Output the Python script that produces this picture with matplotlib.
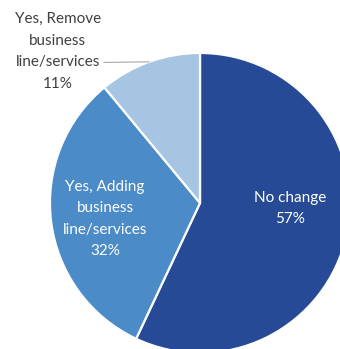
import numpy as np
import matplotlib
matplotlib.use("Agg")
import matplotlib.pyplot as plt

# ── Data ─────────────────────────────────────────────────────────────────────
categories = ["No change", "Yes, Adding business\nline/services",
              "Yes, Remove business\nline/services"]
label_text = ["No change", "Yes, Adding\nbusiness\nline/services",
              "Yes, Remove\nbusiness\nline/services"]
shares = [57, 32, 11]

COLORS = ["#264A96", "#4A8BC8", "#A6C5E2"]
FONT = ["Lato", "DejaVu Sans"]
LSP = 1.68

fig = plt.figure(figsize=(3.40, 3.49), dpi=100)
ax = fig.add_axes([0, 0, 1, 1])

wedges, _ = ax.pie(
    shares, colors=COLORS, startangle=90, counterclock=False,
    wedgeprops=dict(edgecolor="white", linewidth=1.6),
)
ax.set_aspect("auto")
ax.set_xlim(-1.333, 0.933)
ax.set_ylim(-0.973, 1.353)
ax.axis("off")

# labels inside the two large wedges
inside = {0: (0.60, -0.035), 1: (-0.633, -0.107)}
for i, (x, y) in inside.items():
    ax.text(x, y, f"{label_text[i]}\n{shares[i]}%", ha="center", va="center",
            color="white", fontsize=11, family=FONT, linespacing=LSP)

# small wedge gets an outside label with a leader line
w = wedges[2]
mid = np.deg2rad((w.theta1 + w.theta2) / 2)
tip = (np.cos(mid) * 1.0, np.sin(mid) * 1.0)
ax.annotate(f"{label_text[2]}\n{shares[2]}%", xy=tip, xytext=(-0.947, 1.01),
            ha="center", va="center", color="#404040", fontsize=11,
            family=FONT, linespacing=LSP,
            arrowprops=dict(arrowstyle="-", color="#A6A6A6", lw=0.8,
                            shrinkA=0, shrinkB=0,
                            relpos=(1.0, 0.36)))

fig.savefig("out.png", dpi=100)
